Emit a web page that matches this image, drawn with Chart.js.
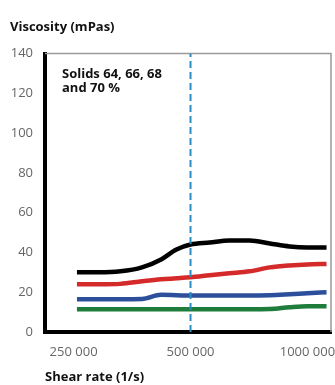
<!DOCTYPE html>
<html>
<head>
<meta charset="utf-8">
<script src="https://cdn.jsdelivr.net/npm/chart.js@4"></script>
<style>
  html, body { margin: 0; padding: 0; background: #fff; }
  #wrap { width: 335px; height: 385px; }
</style>
</head>
<body>
<div id="wrap"><canvas id="chart"></canvas></div>
<script>
// shear rate (1/s)
const shearRates = [255000, 290000, 330000, 375000, 420000, 460000, 500000, 560000, 630000, 710000, 800000, 900000, 1000000, 1120000];
// viscosity (mPas) per solids content
const solids70 = [30, 30, 30.5, 32.5, 36.5, 41.5, 44, 45, 46, 46, 44.5, 43, 42.5, 42.5];
const solids68 = [24, 24, 24.2, 25.5, 26.5, 27, 27.5, 28.5, 29.5, 30.5, 32.5, 33.5, 34, 34.2];
const solids66 = [16.5, 16.5, 16.5, 16.6, 18.7, 18.5, 18.3, 18.3, 18.3, 18.3, 18.5, 19, 19.5, 20];
const solids64 = [11.5, 11.5, 11.5, 11.5, 11.5, 11.5, 11.5, 11.5, 11.5, 11.5, 11.6, 12.5, 13, 13];
const xTicks = [250000, 500000, 1000000];
const markerRate = 500000;
const annotation = ['Solids 64, 66, 68', 'and 70 %'];

const toPoints = vals => vals.map((v, i) => ({ x: shearRates[i], y: v }));

const line = (vals, color) => ({
  data: toPoints(vals),
  borderColor: color,
  borderWidth: 4.5,
  pointRadius: 0,
  cubicInterpolationMode: 'monotone',
  order: 2
});

const framePlugin = {
  id: 'frame',
  beforeDatasetsDraw(chart) {
    const { ctx, chartArea: a } = chart;
    ctx.save();
    ctx.strokeStyle = '#9a9a9a';
    ctx.lineWidth = 1.5;
    ctx.beginPath();
    ctx.moveTo(a.left, a.top);
    ctx.lineTo(a.right, a.top);
    ctx.lineTo(a.right, a.bottom);
    ctx.stroke();
    ctx.restore();
  },
  afterDraw(chart) {
    const { ctx, chartArea: a } = chart;
    ctx.save();
    ctx.fillStyle = '#111';
    ctx.font = 'bold 13px "Open Sans"';
    ctx.textBaseline = 'middle';
    ctx.fillText(annotation[0], a.left + 17, a.top + 21);
    ctx.fillText(annotation[1], a.left + 17, a.top + 35);
    ctx.restore();
  }
};

const ctx = document.getElementById('chart').getContext('2d');
const chart = new Chart(ctx, {
  type: 'line',
  data: {
    datasets: [
      {
        data: [{ x: markerRate, y: 0 }, { x: markerRate, y: 140 }],
        borderColor: '#2a8cc2',
        borderWidth: 2,
        borderDash: [7, 4],
        pointRadius: 0,
        order: 1
      },
      line(solids70, '#000000'),
      line(solids68, '#d42a2a'),
      line(solids66, '#2c4f9c'),
      line(solids64, '#1f7d3b')
    ]
  },
  options: {
    responsive: true,
    maintainAspectRatio: false,
    animation: false,
    layout: { padding: { left: 10, right: 4, top: 0, bottom: 0 } },
    plugins: {
      legend: { display: false },
      tooltip: { enabled: false },
      title: {
        display: true,
        text: 'Viscosity (mPas)',
        align: 'start',
        color: '#111',
        font: { family: 'Open Sans', size: 13, weight: 'bold' },
        padding: { top: 19, bottom: 19 }
      }
    },
    scales: {
      x: {
        type: 'logarithmic',
        min: 211000,
        max: 1150000,
        grid: { display: false, drawTicks: false },
        border: { display: true, color: '#000', width: 4 },
        afterBuildTicks: s => { s.ticks = xTicks.map(v => ({ value: v })); },
        afterFit: s => { s.paddingLeft = 0; s.paddingRight = 0; s.height = 53; },
        ticks: {
          autoSkip: false,
          maxRotation: 0,
          padding: 12,
          color: '#666',
          font: { family: 'Open Sans', size: 13 },
          callback: v => String(v).replace(/(\d{3})$/, ' $1')
        },
        title: {
          display: true,
          text: 'Shear rate (1/s)',
          align: 'start',
          color: '#111',
          font: { family: 'Open Sans', size: 13, weight: 'bold' },
          padding: { top: 4, bottom: 0 }
        }
      },
      y: {
        min: 0,
        max: 140,
        grid: { display: false, drawTicks: false },
        border: { display: true, color: '#000', width: 4 },
        afterFit: s => { s.width = 35; },
        ticks: {
          stepSize: 20,
          padding: 12,
          color: '#666',
          font: { family: 'Open Sans', size: 13 }
        }
      }
    }
  },
  plugins: [framePlugin]
});
</script>
</body>
</html>
